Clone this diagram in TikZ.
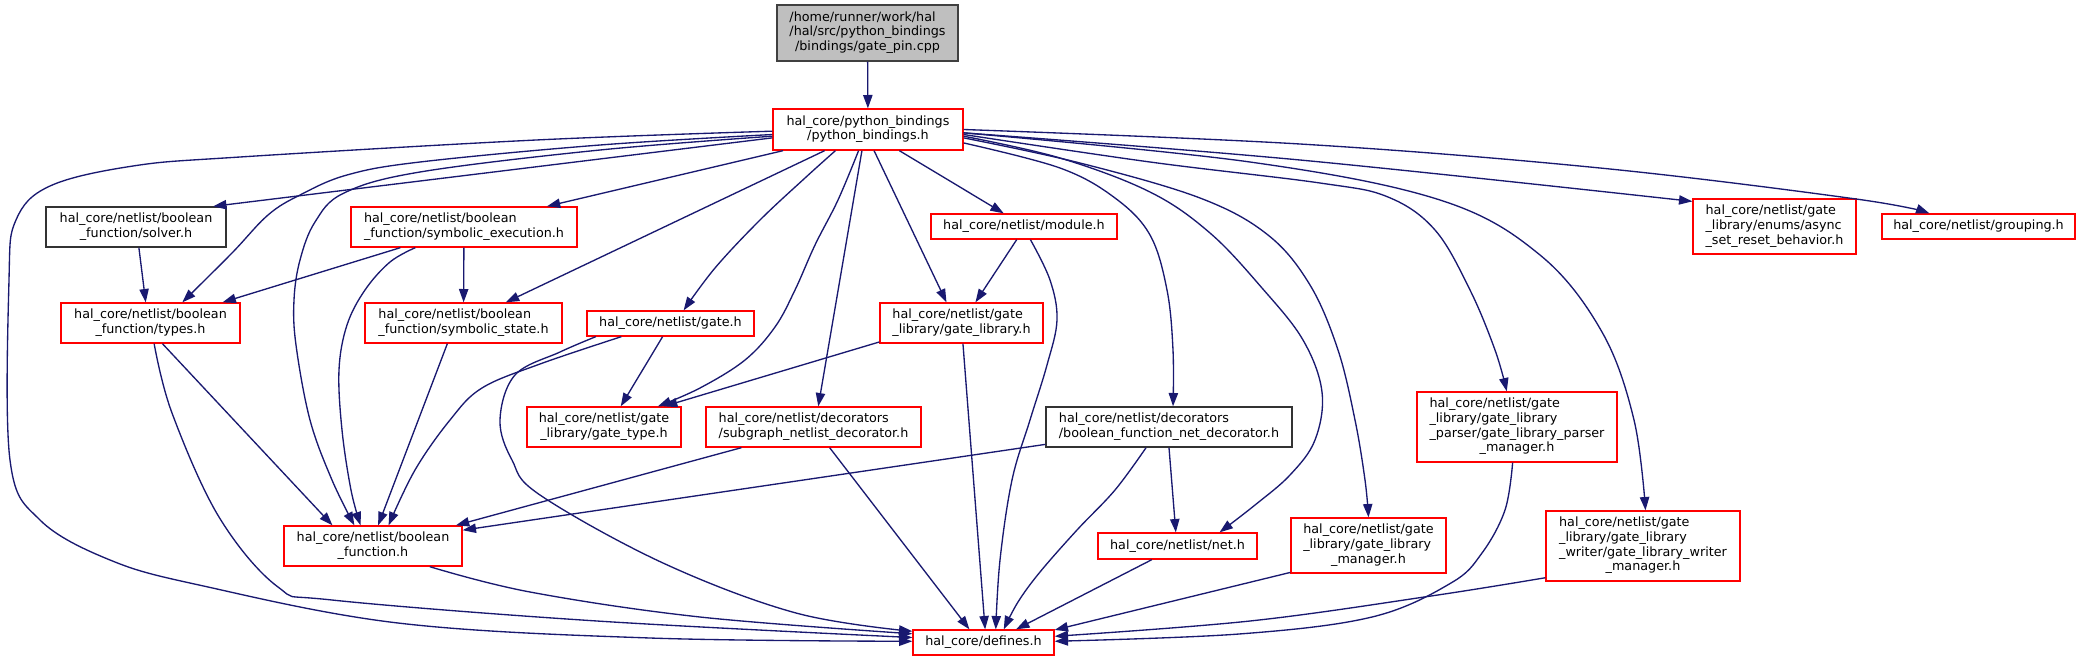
\documentclass[tikz,border=0pt]{standalone}
\usepackage{fontspec}
\setmainfont{DejaVu Sans}
\usetikzlibrary{arrows.meta}
\definecolor{edgecol}{HTML}{191970}
\newcommand\nodefont{\fontsize{9.56}{11}\selectfont}
\newcommand\lbl[2]{\begin{tabular}{@{}l@{}}#1\\\multicolumn{1}{@{}c@{}}{#2}\end{tabular}}
\newcommand\bx[7]{%
  \pgfmathsetmacro\bxw{(#4-#2)*0.75}%
  \pgfmathsetmacro\bxh{(#5-#3)*0.75}%
  \pgfmathsetmacro\bxcx{(#2+#4)/2}%
  \pgfmathsetmacro\bxcy{(#3+#5)/2}%
  \node[#6, minimum width=\bxw pt, minimum height=\bxh pt] (#1) at (\bxcx,\bxcy) {#7};}
\tikzset{
  box/.style={draw=red, line width=1pt, fill=white, inner sep=0pt, font=\nodefont},
  bbox/.style={box, draw=black!80},
  rootbox/.style={box, draw=black!75, fill=black!25},
  dep/.style={draw=edgecol, line width=1pt, -{Triangle[length=10pt,width=7pt]}},
  sm/.style={smooth, tension=0.6}
}
\begin{document}
\begin{tikzpicture}[x=0.75pt, y=-0.75pt]
\fill[white] (0,0) rectangle (2081,661);
\useasboundingbox (0,0) rectangle (2081,661);
% nodes
\bx{root}{777}{5}{958}{61}{rootbox}{\lbl{/home/runner/work/hal\\/hal/src/python\_bindings}{/bindings/gate\_pin.cpp}}
\bx{PB}{773}{109}{963}{150}{box}{\lbl{hal\_core/python\_bindings}{/python\_bindings.h}}
\bx{solver}{46}{207}{226}{247}{bbox}{\lbl{hal\_core/netlist/boolean}{\_function/solver.h}}
\bx{symexec}{351}{207}{577}{247}{box}{\lbl{hal\_core/netlist/boolean}{\_function/symbolic\_execution.h}}
\bx{types}{61}{303}{240}{343}{box}{\lbl{hal\_core/netlist/boolean}{\_function/types.h}}
\bx{symstate}{365}{303}{562}{343}{box}{\lbl{hal\_core/netlist/boolean}{\_function/symbolic\_state.h}}
\bx{gate}{587}{311}{754}{336}{box}{hal\_core/netlist/gate.h}
\bx{gatelib}{880}{303}{1043}{343}{box}{\lbl{hal\_core/netlist/gate}{\_library/gate\_library.h}}
\bx{module}{931}{214}{1117}{239}{box}{hal\_core/netlist/module.h}
\bx{async}{1693}{199}{1856}{254}{box}{\lbl{hal\_core/netlist/gate\\\_library/enums/async}{\_set\_reset\_behavior.h}}
\bx{grouping}{1882}{214}{2075}{239}{box}{hal\_core/netlist/grouping.h}
\bx{gatetype}{527}{407}{681}{447}{box}{\lbl{hal\_core/netlist/gate}{\_library/gate\_type.h}}
\bx{subgraph}{706}{407}{921}{447}{box}{\lbl{hal\_core/netlist/decorators}{/subgraph\_netlist\_decorator.h}}
\bx{bfnd}{1046}{407}{1292}{447}{bbox}{\lbl{hal\_core/netlist/decorators}{/boolean\_function\_net\_decorator.h}}
\bx{parser}{1417}{392}{1617}{462}{box}{\lbl{hal\_core/netlist/gate\\\_library/gate\_library\\\_parser/gate\_library\_parser}{\_manager.h}}
\bx{writer}{1546}{511}{1740}{581}{box}{\lbl{hal\_core/netlist/gate\\\_library/gate\_library\\\_writer/gate\_library\_writer}{\_manager.h}}
\bx{BF}{284}{526}{462}{566}{box}{\lbl{hal\_core/netlist/boolean}{\_function.h}}
\bx{net}{1098}{533}{1257}{559}{box}{hal\_core/netlist/net.h}
\bx{glmgr}{1291}{518}{1446}{573}{box}{\lbl{hal\_core/netlist/gate\\\_library/gate\_library}{\_manager.h}}
\bx{defines}{913}{630}{1054}{655}{box}{hal\_core/defines.h}
% edges
\draw[dep] (root) -- (PB);
\draw[dep] (PB.185) -- (solver.15);
\draw[dep] (PB.194) -- (symexec.14);
\draw[dep] (PB.206) -- (symstate.26);
\draw[dep] plot[sm] coordinates {(PB.213) (805,178) (760,220) (715,268) (gate.45)};
\draw[dep] plot[sm] coordinates {(PB.246) (838,200) (815,245) (795,290) (775,327) (745,360) (700,388) (gatetype.21)};
\draw[dep] (PB.254) -- (subgraph.77);
\draw[dep] (PB.286) -- (gatelib.126);
\draw[dep] (PB.326) -- (module.147);
\draw[dep] plot[sm] coordinates {(PB.352) (1060,168) (1115,198) (1150,235) (1167,290) (1173,350) (bfnd.79)};
\draw[dep] plot[sm] coordinates {(PB.356) (1060,158) (1150,192) (1210,233) (1262,288) (1303,340) (1322,392) (1315,440) (1290,475) (1255,505) (net.18)};
\draw[dep] plot[sm] coordinates {(PB.355) (1080,163) (1200,198) (1268,235) (1310,285) (1338,350) (1355,420) (1365,480) (glmgr.90)};
\draw[dep] plot[sm] coordinates {(PB.357) (1150,162) (1320,183) (1388,197) (1435,230) (1470,290) (1495,350) (parser.106)};
\draw[dep] plot[sm] coordinates {(PB.358) (1250,162) (1440,200) (1540,255) (1602,332) (1634,420) (writer.86)};
\draw[dep] plot[sm] coordinates {(PB.358.5) (1300,160) (async.163)};
\draw[dep] plot[sm] coordinates {(PB.0) (1300,144) (1600,168) (1856,199) (grouping.165)};
\draw[dep] plot[sm] coordinates {(PB.181) (536,140) (240,157) (133,166) (50,186) (16,220) (9,280) (10,460) (40,520) (110,560) (199,585) (398,623) (650,638) (defines.179)};
\draw[dep] plot[sm] coordinates {(PB.183) (600,145) (420,162) (347,175) (300,195) (268,215) (232,253) (types.33)};
\draw[dep] plot[sm] coordinates {(PB.184) (600,150) (420,172) (344,193) (315,222) (300,260) (294,300) (296,345) (310,420) (332,480) (BF.132)};
\draw[dep] (solver.278) -- (types.103);
\draw[dep] (symexec.198) -- (types.16);
\draw[dep] (symexec) -- (symstate);
\draw[dep] plot[sm] coordinates {(symexec.203) (390,262) (365,290) (347,325) (339,370) (342,430) (351,490) (BF.121)};
\draw[dep] (types.300) -- (BF.153);
\draw[dep] plot[sm] coordinates {(types.280) (172,413) (219,517) (278,587) (332,600) (597,621) (defines.176)};
\draw[dep] plot[sm] coordinates {(BF.340) (530,592) (700,617) (defines.173)};
\draw[dep] (symstate.232) -- (BF.76);
\draw[dep] plot[sm] coordinates {(gate.195) (540,364) (482,388) (450,420) (415,470) (BF.53)};
\draw[dep] plot[sm] coordinates {(gate.190) (560,352) (515,375) (500,420) (512,460) (540,495) (663,563) (796,613) (defines.171)};
\draw[dep] (gate.239) -- (gatetype.51);
\draw[dep] (gatelib.193) -- (gatetype.19);
\draw[dep] (gatelib.274) -- (defines.83);
\draw[dep] (module.241) -- (gatelib.56);
\draw[dep] plot[sm] coordinates {(module.296) (1050,280) (1057,320) (1047,365) (1030,420) (1012,480) (1000,560) (defines.47)};
\draw[dep] (subgraph.196) -- (BF.14);
\draw[dep] (subgraph.308) -- (defines.137);
\draw[dep] (bfnd.188) -- (BF.10);
\draw[dep] (bfnd.270) -- (net.97);
\draw[dep] plot[sm] coordinates {(bfnd.222) (1115,490) (1077,530) (1040,572) (1018,602) (defines.33)};
\draw[dep] (net.208) -- (defines.22);
\draw[dep] (glmgr.199) -- (defines.10);
\draw[dep] plot[sm] coordinates {(writer.198) (1431,596) (1250,621) (defines.5)};
\draw[dep] plot[sm] coordinates {(parser.263) (1505,510) (1482,553) (1451,583) (1372,617) (1239,634) (defines.1)};
\end{tikzpicture}
\end{document}
